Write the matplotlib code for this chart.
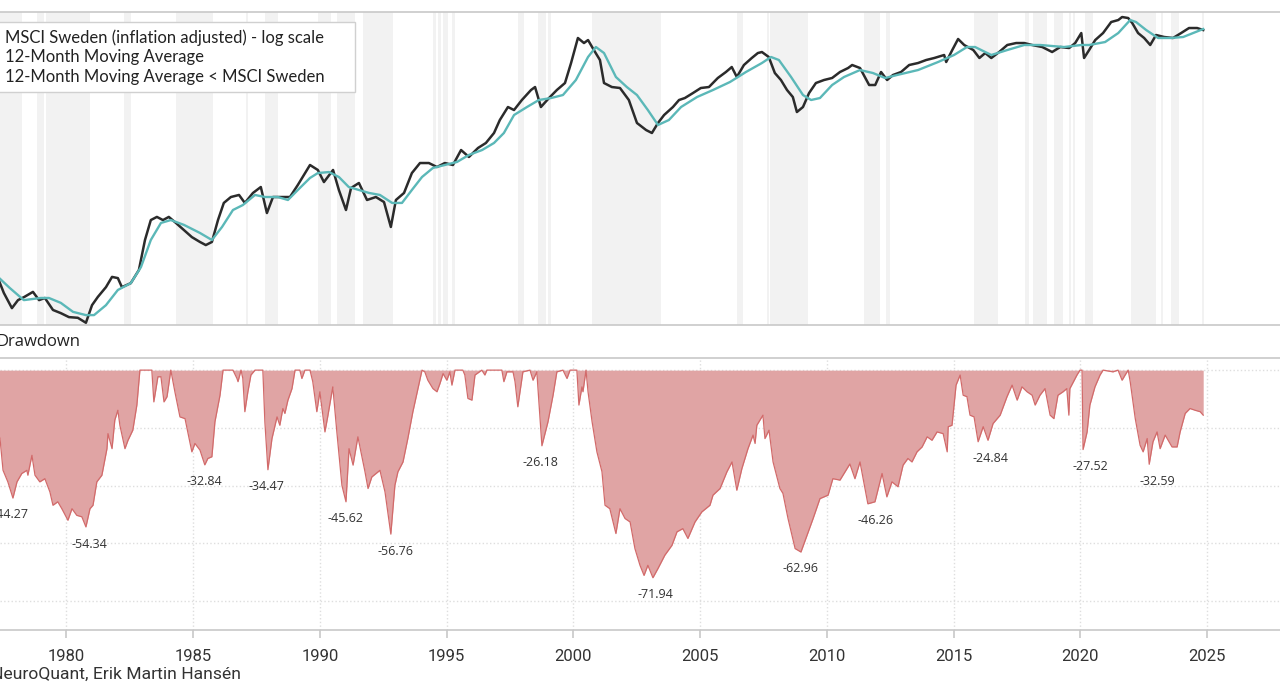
import numpy as np
import matplotlib.pyplot as plt
from matplotlib.lines import Line2D
from matplotlib.patches import Patch

# MSCI Sweden (inflation adjusted), index
price_years = [1977.30, 1977.53, 1977.85, 1978.09, 1978.34, 1978.68, 1978.92, 1979.15, 1979.47, 1979.78,
               1980.10, 1980.45, 1980.77, 1981.01, 1981.24, 1981.56, 1981.80, 1982.03, 1982.19, 1982.54,
               1982.86, 1983.10, 1983.33, 1983.57, 1983.81, 1984.04, 1984.32, 1984.63, 1984.95, 1985.27,
               1985.50, 1985.74, 1985.98, 1986.21, 1986.49, 1986.81, 1987.04, 1987.36, 1987.67, 1987.91,
               1988.15, 1988.50, 1988.82, 1989.13, 1989.61, 1989.92, 1990.16, 1990.52, 1990.75, 1991.03,
               1991.23, 1991.54, 1991.86, 1992.21, 1992.53, 1992.80, 1993.00, 1993.32, 1993.63, 1993.95,
               1994.30, 1994.62, 1994.93, 1995.25, 1995.57, 1995.88, 1996.24, 1996.55, 1996.87, 1997.10,
               1997.42, 1997.66, 1997.97, 1998.33, 1998.49, 1998.72, 1999.04, 1999.35, 1999.67, 1999.91,
               2000.18, 2000.42, 2000.58, 2000.81, 2001.05, 2001.21, 2001.52, 2001.84, 2002.19, 2002.51,
               2002.87, 2003.10, 2003.34, 2003.58, 2003.93, 2004.17, 2004.40, 2004.72, 2005.03, 2005.35,
               2005.70, 2006.02, 2006.25, 2006.45, 2006.73, 2007.04, 2007.28, 2007.44, 2007.71, 2007.95,
               2008.19, 2008.43, 2008.66, 2008.82, 2009.06, 2009.30, 2009.57, 2009.89, 2010.21, 2010.52,
               2010.84, 2011.00, 2011.31, 2011.67, 2011.91, 2012.14, 2012.38, 2012.61, 2012.93, 2013.25,
               2013.60, 2013.92, 2014.24, 2014.63, 2014.71, 2014.95, 2015.18, 2015.42, 2015.78, 2016.02,
               2016.25, 2016.49, 2016.80, 2017.12, 2017.47, 2017.79, 2018.10, 2018.50, 2018.89, 2019.21,
               2019.56, 2019.80, 2020.04, 2020.15, 2020.35, 2020.59, 2020.90, 2021.22, 2021.50, 2021.65,
               2021.89, 2022.05, 2022.28, 2022.52, 2022.76, 2022.99, 2023.31, 2023.66, 2023.98, 2024.29,
               2024.61, 2024.85]
price = [186, 153, 125, 139, 145, 155, 139, 143, 122, 117,
         111, 110, 103, 130, 145, 165, 189, 186, 165, 174,
         207, 308, 401, 418, 401, 418, 386, 352, 320, 300,
         288, 300, 401, 503, 544, 559, 503, 574, 621, 440,
         544, 544, 544, 638, 831, 778, 663, 778, 597, 458,
         613, 655, 523, 544, 509, 366, 523, 574, 747, 853,
         853, 809, 853, 831, 1013, 924, 1041, 1112, 1269, 1507,
         1790, 1720, 1964, 2242, 2332, 1790, 2016, 2242, 2459, 3204,
         4462, 4174, 4343, 3805, 3334, 2459, 2332, 2302, 1964, 1449,
         1320, 1269, 1449, 1610, 1790, 1964, 2016, 2154, 2302, 2332,
         2628, 2845, 3039, 2663, 3121, 3424, 3657, 3706, 3470, 2807,
         2559, 2242, 2043, 1675, 1790, 2154, 2459, 2559, 2628, 2845,
         2999, 3121, 2999, 2395, 2395, 2845, 2559, 2734, 2845, 3121,
         3204, 3334, 3424, 3563, 3247, 3805, 4403, 4067, 3805, 3424,
         3657, 3424, 3706, 4067, 4174, 4174, 4067, 3960, 3706, 3960,
         3907, 4174, 4765, 3424, 3805, 4343, 4765, 5513, 5660, 5889,
         5812, 5441, 4765, 4462, 4067, 4642, 4521, 4462, 4765, 5091,
         5091, 4958]

# 12-month moving average
ma_years = [1977.30, 1977.77, 1978.32, 1978.99, 1979.31, 1979.78, 1980.26, 1980.77, 1981.09, 1981.56,
            1982.03, 1982.54, 1982.94, 1983.33, 1983.73, 1984.12, 1984.64, 1985.27, 1985.74, 1986.14,
            1986.57, 1986.96, 1987.44, 1987.83, 1988.34, 1988.74, 1989.13, 1989.61, 1989.92, 1990.36,
            1990.75, 1991.14, 1991.54, 1991.94, 1992.37, 1992.85, 1993.24, 1993.63, 1994.03, 1994.46,
            1994.93, 1995.41, 1995.88, 1996.40, 1996.87, 1997.26, 1997.66, 1998.17, 1998.64, 1999.12,
            1999.59, 2000.10, 2000.58, 2000.89, 2001.21, 2001.68, 2002.11, 2002.51, 2002.94, 2003.34,
            2003.77, 2004.25, 2004.88, 2005.51, 2006.18, 2006.81, 2007.44, 2007.80, 2008.11, 2008.59,
            2009.06, 2009.38, 2009.73, 2010.21, 2010.68, 2011.31, 2011.82, 2012.30, 2012.77, 2013.60,
            2014.39, 2015.02, 2015.53, 2015.85, 2016.49, 2017.12, 2017.79, 2018.42, 2019.36, 2020.04,
            2020.35, 2020.98, 2021.50, 2021.97, 2022.20, 2022.60, 2023.07, 2023.58, 2024.06, 2024.85]
ma = [189, 163, 139, 143, 143, 134, 119, 114, 114, 130,
      159, 174, 215, 308, 386, 401, 376, 338, 308, 366,
      458, 489, 559, 544, 544, 523, 597, 700, 747, 757,
      709, 621, 597, 574, 559, 503, 503, 597, 709, 799,
      831, 865, 949, 1013, 1112, 1269, 1610, 1790, 1964, 2016,
      2098, 2559, 3470, 3960, 3657, 2663, 2332, 2098, 1720, 1411,
      1507, 1790, 2043, 2242, 2492, 2845, 3204, 3470, 3334, 2663,
      2098, 1964, 2016, 2395, 2663, 2920, 2807, 2628, 2734, 2920,
      3247, 3563, 3960, 3960, 3563, 3805, 4067, 4067, 3960, 4067,
      4067, 4230, 4765, 5660, 5513, 4958, 4462, 4462, 4521, 5024]

# drawdown from the running high, %
dd_years = [1977.30, 1977.38, 1977.50, 1977.69, 1977.89, 1978.05, 1978.24, 1978.44, 1978.48, 1978.64,
            1978.76, 1978.95, 1979.15, 1979.35, 1979.47, 1979.66, 1979.82, 1980.06, 1980.22, 1980.41,
            1980.61, 1980.77, 1980.93, 1981.05, 1981.20, 1981.40, 1981.60, 1981.64, 1981.80, 1981.91,
            1982.03, 1982.11, 1982.31, 1982.43, 1982.62, 1982.78, 1982.90, 1983.37, 1983.45, 1983.61,
            1983.73, 1983.85, 1983.97, 1984.12, 1984.28, 1984.48, 1984.68, 1984.95, 1985.07, 1985.27,
            1985.46, 1985.58, 1985.74, 1985.86, 1986.06, 1986.18, 1986.57, 1986.73, 1986.77, 1986.89,
            1986.96, 1987.04, 1987.16, 1987.28, 1987.44, 1987.75, 1987.83, 1987.95, 1988.11, 1988.31,
            1988.42, 1988.54, 1988.62, 1988.74, 1988.90, 1989.02, 1989.21, 1989.29, 1989.41, 1989.61,
            1989.72, 1989.88, 1990.00, 1990.20, 1990.32, 1990.51, 1990.67, 1990.87, 1991.03, 1991.15,
            1991.31, 1991.50, 1991.78, 1991.90, 1992.05, 1992.37, 1992.57, 1992.80, 1992.96, 1993.08,
            1993.28, 1993.47, 1993.67, 1993.87, 1994.03, 1994.14, 1994.26, 1994.46, 1994.62, 1994.74,
            1994.86, 1995.01, 1995.13, 1995.21, 1995.33, 1995.64, 1995.72, 1995.84, 1996.00, 1996.12,
            1996.39, 1996.51, 1996.59, 1997.18, 1997.26, 1997.38, 1997.62, 1997.70, 1997.81, 1998.01,
            1998.29, 1998.41, 1998.56, 1998.76, 1999.00, 1999.20, 1999.35, 1999.59, 1999.75, 1999.87,
            2000.14, 2000.22, 2000.34, 2000.38, 2000.50, 2000.58, 2000.74, 2000.93, 2001.13, 2001.25,
            2001.44, 2001.68, 2001.84, 2002.04, 2002.24, 2002.43, 2002.63, 2002.79, 2002.94, 2003.14,
            2003.34, 2003.61, 2003.89, 2004.09, 2004.32, 2004.52, 2004.80, 2005.07, 2005.39, 2005.51,
            2005.79, 2006.06, 2006.26, 2006.45, 2006.65, 2006.89, 2007.09, 2007.17, 2007.24, 2007.48,
            2007.56, 2007.72, 2007.88, 2008.15, 2008.27, 2008.47, 2008.75, 2008.98, 2009.22, 2009.46,
            2009.73, 2010.05, 2010.24, 2010.52, 2010.91, 2011.11, 2011.31, 2011.62, 2011.90, 2012.18,
            2012.37, 2012.57, 2012.81, 2013.01, 2013.20, 2013.36, 2013.56, 2013.76, 2013.96, 2014.15,
            2014.35, 2014.59, 2014.75, 2014.79, 2014.94, 2015.10, 2015.26, 2015.38, 2015.53, 2015.65,
            2015.81, 2015.97, 2016.17, 2016.36, 2016.56, 2016.84, 2017.11, 2017.31, 2017.51, 2017.70,
            2017.90, 2018.10, 2018.22, 2018.41, 2018.61, 2018.81, 2018.96, 2019.12, 2019.32, 2019.47,
            2019.55, 2019.59, 2019.87, 2019.99, 2020.07, 2020.11, 2020.27, 2020.38, 2020.58, 2020.78,
            2020.90, 2021.29, 2021.49, 2021.65, 2021.77, 2021.89, 2021.97, 2022.17, 2022.36, 2022.48,
            2022.64, 2022.72, 2022.87, 2023.03, 2023.15, 2023.35, 2023.62, 2023.82, 2023.94, 2024.14,
            2024.33, 2024.53, 2024.73, 2024.85]
drawdown = [-22.0, -23.7, -34.7, -38.7, -44.3, -38.7, -35.8, -34.7, -36.4, -29.5,
            -36.4, -38.7, -37.6, -42.2, -46.8, -45.6, -48.0, -52.0, -48.0, -50.3,
            -50.8, -54.3, -48.0, -46.8, -38.7, -36.4, -27.2, -22.0, -27.2, -17.3,
            -13.9, -19.1, -27.2, -24.3, -20.8, -12.1, 0.0, 0.0, -11.0, -2.3,
            -2.3, -11.0, -9.2, 0.0, -7.5, -16.2, -16.8, -28.3, -25.4, -27.7,
            -32.8, -30.6, -30.0, -17.9, -8.7, 0.0, 0.0, -2.9, -4.0, 0.0,
            -2.9, -14.4, -7.5, -1.7, 0.0, 0.0, -17.9, -34.5, -23.7, -16.2,
            -19.1, -13.3, -15.0, -10.4, -6.4, 0.0, 0.0, -2.9, 0.0, 0.0,
            -4.0, -14.4, -7.5, -21.4, -15.6, -5.8, -21.4, -39.9, -45.6, -27.2,
            -32.9, -23.1, -35.2, -41.0, -37.0, -34.7, -42.2, -56.8, -39.9, -35.2,
            -31.8, -23.7, -14.4, -6.4, 0.0, -0.6, -3.5, -6.4, -7.5, -4.6,
            -1.2, -3.5, -0.6, -5.2, 0.0, 0.0, -1.7, -9.8, -10.4, -1.7,
            0.0, -1.7, 0.0, 0.0, -4.0, -0.6, -0.6, -4.0, -12.7, -0.6,
            0.0, -3.5, -0.6, -26.2, -17.9, -8.7, -0.6, 0.0, -2.9, 0.0,
            0.0, -12.1, -5.8, -7.5, 0.0, -7.5, -17.9, -28.3, -35.2, -46.8,
            -48.0, -56.6, -48.0, -51.4, -52.6, -61.8, -67.6, -71.1, -67.6, -71.9,
            -68.7, -64.1, -60.7, -56.0, -54.9, -58.3, -52.6, -49.1, -46.8, -43.3,
            -41.0, -35.2, -31.8, -41.6, -34.1, -27.2, -22.5, -25.4, -19.1, -15.6,
            -23.7, -20.8, -31.8, -41.0, -42.7, -51.4, -61.8, -63.0, -57.2, -51.4,
            -44.5, -43.3, -37.6, -38.1, -32.5, -37.6, -31.8, -46.3, -45.6, -35.8,
            -43.9, -38.7, -40.4, -32.9, -30.6, -31.8, -28.3, -26.6, -23.1, -24.3,
            -21.4, -22.0, -28.3, -19.6, -19.1, -5.2, -1.7, -8.7, -9.2, -15.6,
            -16.2, -24.8, -19.6, -24.3, -18.5, -15.6, -9.2, -5.2, -10.4, -5.8,
            -7.5, -8.7, -12.1, -8.7, -6.4, -15.6, -16.8, -8.7, -7.5, -6.4,
            -15.6, -6.4, -1.7, 0.0, 0.0, -27.5, -21.4, -12.1, -5.8, -1.7,
            0.0, -0.6, 0.0, -3.5, -1.7, 0.0, -4.0, -16.8, -26.0, -28.3,
            -23.7, -32.6, -24.8, -21.4, -27.2, -22.5, -26.6, -26.6, -21.4, -15.0,
            -13.3, -13.9, -14.4, -15.6]

# labelled drawdown troughs
trough_years = [1977.81, 1980.89, 1985.43, 1987.91, 1991.03, 1993.00, 1998.72,
                2003.22, 2008.98, 2011.94, 2016.44, 2020.38, 2023.02]
trough_values = [-44.27, -54.34, -32.84, -34.47, -45.62, -56.76, -26.18,
                 -71.94, -62.96, -46.26, -24.84, -27.52, -32.59]

# periods shaded grey in the top panel (start, end)
band_start = [1977.0, 1978.84, 1979.19, 1982.27, 1984.32, 1987.08, 1987.83, 1989.92, 1990.67, 1991.70,
              1994.46, 1994.66, 1994.86, 1995.21, 1997.81, 1998.60, 1999.00, 2000.74, 2006.45, 2007.64,
              2007.76, 2011.46, 2012.33, 2015.82, 2017.83, 2018.14, 2018.97, 2019.57, 2019.73, 2020.19,
              2022.00, 2023.19, 2023.58, 2024.80]
band_end = [1978.24, 1979.11, 1980.93, 1982.54, 1985.78, 1987.16, 1988.35, 1990.43, 1991.38, 1992.88,
            1994.58, 1994.78, 1995.06, 1995.33, 1998.05, 1998.91, 1999.12, 2003.46, 2006.69, 2007.72,
            2009.26, 2012.09, 2012.49, 2016.76, 2017.99, 2018.69, 2019.33, 2019.65, 2019.81, 2020.50,
            2022.99, 2023.27, 2023.90, 2024.88]

year_ticks = [1980, 1985, 1990, 1995, 2000, 2005, 2010, 2015, 2020, 2025]

W, H = 1280, 692
fig = plt.figure(figsize=(W / 100, H / 100), dpi=100)
fig.patch.set_facecolor('white')
xlim = (1977.38, 2027.88)
frame = '#c8c8c8'

# top panel
ax1 = fig.add_axes([0, 1 - 325 / H, 1, 313 / H])
for s, e in zip(band_start, band_end):
    ax1.axvspan(s, e, color='#f2f2f2', lw=0, zorder=0)
ax1.plot(price_years, price, color='#2b2b2b', lw=1.8, zorder=3)
ax1.plot(ma_years, ma, color='#5bb8b8', lw=1.7, zorder=4)
ax1.set_yscale('log')
ax1.set_ylim(100, 6294)
ax1.set_xlim(xlim)
ax1.set_xticks([])
ax1.set_yticks([])
ax1.minorticks_off()
for side in ['left', 'right']:
    ax1.spines[side].set_visible(False)
for side in ['top', 'bottom']:
    ax1.spines[side].set_color(frame)
    ax1.spines[side].set_linewidth(1.2)

handles = [Line2D([], [], color='none'), Line2D([], [], color='none'), Patch(color='none')]
labels = ['MSCI Sweden (inflation adjusted) - log scale', '12-Month Moving Average',
          '12-Month Moving Average < MSCI Sweden']
leg = ax1.legend(handles, labels, loc='upper left', mode='expand',
                 bbox_to_anchor=(-0.002, 0.5, 0.2793, 0.468), borderaxespad=0,
                 handlelength=0, handletextpad=0, borderpad=0.45, labelspacing=0.2,
                 fancybox=False, framealpha=1, edgecolor='#d0d0d0',
                 prop={'family': 'Lato', 'size': 12})
for t in leg.get_texts():
    t.set_color('#222222')
leg.get_frame().set_linewidth(1.0)

fig.text(-0.003, 1 - 342 / H, 'Drawdown', fontsize=12, family='Open Sans',
         color='#222222', va='center', ha='left')

# drawdown panel
ax2 = fig.add_axes([0, 1 - 630 / H, 1, 272 / H])
ax2.fill_between(dd_years, drawdown, 0, color='#e0a4a4', lw=0, zorder=2)
ax2.plot(dd_years, drawdown, color='#d26a6a', lw=0.9, zorder=3)
ax2.set_xlim(xlim)
ax2.set_ylim(-90, 4.2)
ax2.set_yticks([0, -20, -40, -60, -80])
ax2.set_xticks(year_ticks)
ax2.grid(True, color='#dedede', ls=':', lw=1.0, zorder=0)
ax2.tick_params(axis='y', length=0, labelleft=False)
ax2.tick_params(axis='x', length=6, width=1.2, color=frame, pad=8, labelsize=12,
                labelcolor='#333333')
for t in ax2.get_xticklabels():
    t.set_family('Roboto')
for side in ['left', 'right']:
    ax2.spines[side].set_visible(False)
for side in ['top', 'bottom']:
    ax2.spines[side].set_color(frame)
    ax2.spines[side].set_linewidth(1.2)

for yr, v in zip(trough_years, trough_values):
    ax2.annotate(f'{v:.2f}', xy=(yr, v), xytext=(0, -17), textcoords='offset pixels',
                 ha='center', va='center', fontsize=9, family='Open Sans', color='#333333')

fig.text(-0.007, 1 - 674 / H, 'NeuroQuant, Erik Martin Hansén', fontsize=12.6, family='Roboto',
         color='#333333', va='center', ha='left')

fig.savefig('out.png', dpi=100)
